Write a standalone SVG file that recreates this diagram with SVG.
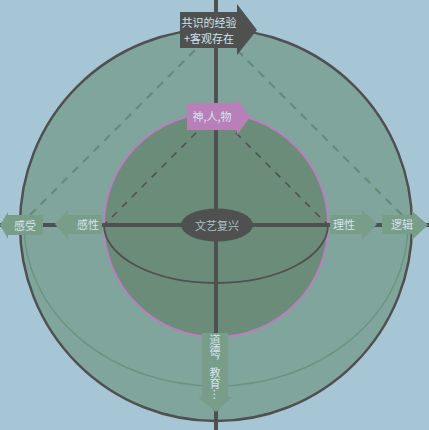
<svg xmlns="http://www.w3.org/2000/svg" width="429" height="430" viewBox="0 0 429 430">
<style>
text{font-family:"Noto Sans CJK SC","Noto Sans",sans-serif;font-size:11px;fill:#d4e4ee;text-anchor:middle;dominant-baseline:central}
.arr{fill:#789d88}
.axis{stroke:#4f5150;stroke-width:4;fill:none}
</style>
<rect width="429" height="430" fill="#a6c6d6"/>
<g id="outer-circle">
<circle cx="216" cy="225" r="196" fill="#80a59d" stroke="#4f5150" stroke-width="2.5"/>
<path d="M24,225 A192,161 0 0 0 408,225" fill="none" stroke="#6a9580" stroke-width="1.5"/>
<path d="M216,29 L20,225 M216,29 L412,225" fill="none" stroke="#658c74" stroke-width="2.2" stroke-dasharray="8,7"/>
</g>
<g id="inner-circle">
<circle cx="216" cy="225" r="112" fill="#6a8c78" stroke="#c07cc0" stroke-width="1.8"/>
<path d="M104,225 A112,58 0 0 0 328,225" fill="none" stroke="#4f5150" stroke-width="1.8"/>
<path d="M216,113 L104,225 M216,113 L328,225" fill="none" stroke="#4f5150" stroke-width="1.5" stroke-dasharray="7,7"/>
</g>
<g id="connectors">
<line class="axis" x1="216" y1="0" x2="216" y2="430"/>
<line class="axis" x1="0" y1="225" x2="429" y2="225"/>
</g>
<g id="node-top">
<path d="M180,12 H237 V4 L257,30 L237,55 V48 H180 Z" fill="#4f5150"/>
<text x="209" y="22">共识的经验</text>
<text x="209" y="38">+客观存在</text>
</g>
<g id="node-shen">
<path d="M187,103 H237 V99 L250,117 L237,135 V130 H187 Z" fill="#b97fb9"/>
<text x="212" y="116">神,人,物</text>
</g>
<g id="node-center">
<ellipse cx="217" cy="225" rx="36" ry="16.5" fill="#4f5150"/>
<text x="217" y="225" style="fill:#a9c4cc">文艺复兴</text>
</g>
<g id="node-ganshou">
<path class="arr" d="M43,215 H8 V212 L0,225 L8,239 V235 H43 Z"/>
<text x="25" y="225">感受</text>
</g>
<g id="node-ganxing">
<path class="arr" d="M102,215 H68 V210 L55,224 L68,240 V234 H102 Z"/>
<text x="88" y="224">感性</text>
</g>
<g id="node-lixing">
<path class="arr" d="M330,215 H362 V210 L377,224 L362,240 V234 H330 Z"/>
<text x="344" y="224">理性</text>
</g>
<g id="node-luoji">
<path class="arr" d="M382,215 H412 V211 L428,225 L412,240 V234 H382 Z"/>
<text x="402" y="224">逻辑</text>
</g>
<g id="node-bottom">
<path class="arr" d="M202,333 H228 V397 H232 L216,412 L198,397 H202 Z"/>
<text x="215" y="367" style="writing-mode:vertical-rl">道德，教育…</text>
</g>
</svg>
